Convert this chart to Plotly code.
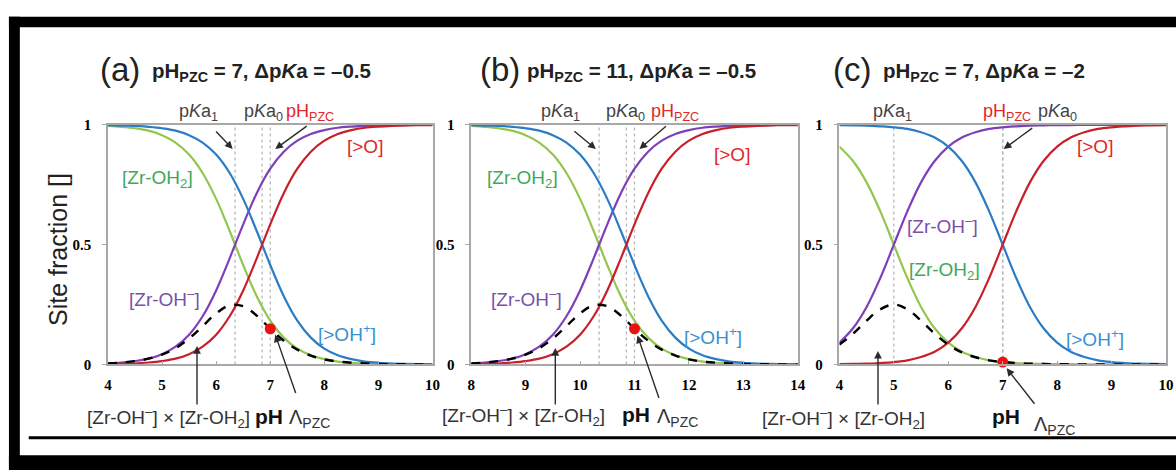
import plotly.graph_objects as go

W, H = 1176, 470

# ---------------- data ----------------
ph_a = [4.0, 4.25, 4.5, 4.75, 5.0, 5.25, 5.5, 5.75, 6.0, 6.25, 6.5, 6.75, 7.0,
        7.25, 7.5, 7.75, 8.0, 8.25, 8.5, 8.75, 9.0, 9.25, 9.5, 9.75, 10.0]
ph_b = [8.0, 8.25, 8.5, 8.75, 9.0, 9.25, 9.5, 9.75, 10.0, 10.25, 10.5, 10.75, 11.0,
        11.25, 11.5, 11.75, 12.0, 12.25, 12.5, 12.75, 13.0, 13.25, 13.5, 13.75, 14.0]
ph_c = ph_a

zroh2_a = [0.996, 0.992, 0.986, 0.976, 0.957, 0.926, 0.876, 0.799, 0.691, 0.557, 0.415, 0.285, 0.183,
           0.112, 0.066, 0.038, 0.022, 0.012, 0.007, 0.004, 0.002, 0.001, 0.001, 0.000, 0.000]
zroh_a = [0.004, 0.008, 0.014, 0.024, 0.043, 0.074, 0.124, 0.201, 0.309, 0.443, 0.585, 0.715, 0.817,
          0.888, 0.934, 0.962, 0.978, 0.988, 0.993, 0.996, 0.998, 0.999, 0.999, 1.000, 1.000]
oh_a = [0.999, 0.997, 0.996, 0.992, 0.986, 0.976, 0.957, 0.926, 0.876, 0.799, 0.691, 0.557, 0.415,
        0.285, 0.183, 0.112, 0.066, 0.038, 0.022, 0.012, 0.007, 0.004, 0.002, 0.001, 0.001]
o_a = [0.001, 0.003, 0.004, 0.008, 0.014, 0.024, 0.043, 0.074, 0.124, 0.201, 0.309, 0.443, 0.585,
       0.715, 0.817, 0.888, 0.934, 0.962, 0.978, 0.988, 0.993, 0.996, 0.998, 0.999, 0.999]
prod_a = [0.004, 0.008, 0.014, 0.024, 0.041, 0.068, 0.108, 0.160, 0.213, 0.247, 0.243, 0.204, 0.149,
          0.099, 0.062, 0.037, 0.021, 0.012, 0.007, 0.004, 0.002, 0.001, 0.001, 0.000, 0.000]

zroh2_b = zroh2_a
zroh_b = zroh_a
oh_b = oh_a
o_b = o_a
prod_b = prod_a

zroh2_c = [0.909, 0.849, 0.760, 0.640, 0.500, 0.360, 0.240, 0.151, 0.091, 0.053, 0.031, 0.017, 0.010,
           0.006, 0.003, 0.002, 0.001, 0.001, 0.000, 0.000, 0.000, 0.000, 0.000, 0.000, 0.000]
zroh_c = [0.091, 0.151, 0.240, 0.360, 0.500, 0.640, 0.760, 0.849, 0.909, 0.947, 0.969, 0.983, 0.990,
          0.994, 0.997, 0.998, 0.999, 0.999, 1.000, 1.000, 1.000, 1.000, 1.000, 1.000, 1.000]
oh_c = [0.999, 0.998, 0.997, 0.994, 0.990, 0.983, 0.969, 0.947, 0.909, 0.849, 0.760, 0.640, 0.500,
        0.360, 0.240, 0.151, 0.091, 0.053, 0.031, 0.017, 0.010, 0.006, 0.003, 0.002, 0.001]
o_c = [0.001, 0.002, 0.003, 0.006, 0.010, 0.017, 0.031, 0.053, 0.091, 0.151, 0.240, 0.360, 0.500,
       0.640, 0.760, 0.849, 0.909, 0.947, 0.969, 0.983, 0.990, 0.994, 0.997, 0.998, 0.999]
prod_c = [0.083, 0.128, 0.183, 0.230, 0.250, 0.230, 0.183, 0.128, 0.083, 0.050, 0.030, 0.017, 0.010,
          0.006, 0.003, 0.002, 0.001, 0.001, 0.000, 0.000, 0.000, 0.000, 0.000, 0.000, 0.000]

# vertical reference lines: pKa1, pKa0, pH_PZC
vlines_a = [6.35, 6.85, 7.0]
vlines_b = [10.35, 10.85, 11.0]
vlines_c = [5.0, 7.0, 7.0]

# Lambda_PZC points
lam_a = (7.0, 0.149)
lam_b = (11.0, 0.149)
lam_c = (7.0, 0.010)

x_ranges = [[4, 10], [8, 14], [4, 10]]
x_ticks = [[4, 5, 6, 7, 8, 9, 10], [8, 9, 10, 11, 12, 13, 14], [4, 5, 6, 7, 8, 9, 10]]
y_ticks = [0, 0.5, 1]
y_ticktext = ["0", "0.5", "1"]

titles = [("(a)", "pH<sub>PZC</sub> = 7, Δp<i>K</i>a = –0.5"),
          ("(b)", "pH<sub>PZC</sub> = 11, Δp<i>K</i>a = –0.5"),
          ("(c)", "pH<sub>PZC</sub> = 7, Δp<i>K</i>a = –2")]

# ---------------- styling ----------------
C_GREEN, C_PURPLE, C_BLUE, C_RED = "#92c64e", "#7e3fba", "#2a7cc6", "#c8202a"
T_GREEN, T_PURPLE, T_BLUE, T_RED = "#3fa85a", "#7a50ab", "#3a8fd2", "#e0282a"
SANS = "Liberation Sans, Arial, sans-serif"
SERIF = "Liberation Serif, Times New Roman, serif"


def px(x):
    return x / W


def py(y):
    return 1 - y / H


x_domains = [[px(105), px(433)], [px(472), px(802)], [px(844), px(1174)]]
y_domain = [py(369), py(121)]

panels = [
    (ph_a, zroh2_a, zroh_a, oh_a, o_a, prod_a, lam_a, vlines_a),
    (ph_b, zroh2_b, zroh_b, oh_b, o_b, prod_b, lam_b, vlines_b),
    (ph_c, zroh2_c, zroh_c, oh_c, o_c, prod_c, lam_c, vlines_c),
]

fig = go.Figure()
shapes = []
for i, (ph, g, pu, b, r, pr, lam, vl) in enumerate(panels):
    xa = "x" if i == 0 else f"x{i+1}"
    ya = "y" if i == 0 else f"y{i+1}"
    for v in vl:
        shapes.append(dict(type="line", xref=xa, yref=ya, x0=v, x1=v, y0=0, y1=1,
                           line=dict(color="#b8b8b8", width=1.3, dash="dot"), layer="below"))
    for ys, col in [(g, C_GREEN), (pu, C_PURPLE), (b, C_BLUE), (r, C_RED)]:
        fig.add_trace(go.Scatter(x=ph, y=ys, mode="lines", xaxis=xa, yaxis=ya,
                                 line=dict(color=col, width=2.2, shape="spline"),
                                 showlegend=False, hoverinfo="skip"))
    fig.add_trace(go.Scatter(x=ph, y=pr, mode="lines", xaxis=xa, yaxis=ya,
                             line=dict(color="black", width=2.4, dash="dash", shape="spline"),
                             showlegend=False, hoverinfo="skip"))
    fig.add_trace(go.Scatter(x=[lam[0]], y=[lam[1]], mode="markers", xaxis=xa, yaxis=ya,
                             marker=dict(color="#ee1111", size=11), cliponaxis=False,
                             showlegend=False, hoverinfo="skip"))

axis_common = dict(showline=True, mirror=True, linecolor="#a8a8a8", linewidth=1.5,
                   showgrid=False, zeroline=False, ticklen=4, tickcolor="#a8a8a8",
                   tickfont=dict(family=SERIF, size=15, color="black", weight="bold"))
layout_axes = {}
for i in range(3):
    sfx = "" if i == 0 else str(i + 1)
    layout_axes["xaxis" + sfx] = dict(axis_common, domain=x_domains[i], range=x_ranges[i],
                                     tickvals=x_ticks[i], ticks="inside",
                                     ticklabelstandoff=6, anchor="y" + sfx)
    layout_axes["yaxis" + sfx] = dict(axis_common, domain=y_domain, range=[0, 1],
                                     tickvals=y_ticks, ticktext=y_ticktext, ticks="outside",
                                     ticklabelstandoff=8, anchor="x" + sfx)

annotations = []


def label(x, y, text, color="#333333", size=19, xanchor="center", family=SANS):
    annotations.append(dict(xref="paper", yref="paper", x=px(x), y=py(y), text=text,
                            showarrow=False, xanchor=xanchor, yanchor="middle",
                            font=dict(family=family, size=size, color=color)))


def arrow(tx, ty, hx, hy):
    annotations.append(dict(xref="paper", yref="paper", x=px(hx), y=py(hy), ax=tx - hx, ay=ty - hy,
                            text="", showarrow=True, arrowhead=2, arrowsize=1.1,
                            arrowwidth=1.4, arrowcolor="#2b2b2b"))


# titles
title_x = [(117, 147), (501, 526), (857, 886)]
for (lx, tx), (lab, txt) in zip(title_x, titles):
    label(lx, 64, lab, color="#222222", size=33)
    label(tx, 66, "<b>" + txt + "</b>", color="#222222", size=20.5, xanchor="left")

# y axis title
annotations.append(dict(xref="paper", yref="paper", x=px(55), y=py(250), text="Site fraction []",
                        showarrow=False, textangle=-90, xanchor="center", yanchor="middle",
                        font=dict(family=SANS, size=25, color="#222222")))

PKA1 = "p<i>K</i>a<sub>1</sub>"
PKA0 = "p<i>K</i>a<sub>0</sub>"
PHPZC = "pH<sub>PZC</sub>"
LAM = "Λ<sub>PZC</sub>"
PROD = "[Zr-OH<sup>–</sup>] × [Zr-OH<sub>2</sub>]"
ZROH2 = "[Zr-OH<sub>2</sub>]"
ZROH = "[Zr-OH<sup>–</sup>]"
OHP = "[>OH<sup>+</sup>]"
OX = "[>O]"

TOP = 18  # size of the pKa / pH_PZC labels above the plots

# panel (a)
label(155, 177, ZROH2, T_GREEN)
label(162, 300, ZROH, T_PURPLE)
label(347, 336, OHP, T_BLUE)
label(365, 143, OX, T_RED)
label(197, 108, PKA1, "#444444", size=TOP)
label(262, 108, PKA0, "#444444", size=TOP)
label(309, 108, PHPZC, T_RED, size=TOP)
label(166, 424, PROD, "#333333")
label(268, 423, "<b>pH</b>", "#111111", size=21)
label(309, 425, LAM, "#333333", size=20)
arrow(213, 127, 231, 146)
arrow(307, 122, 274, 146)
arrow(195, 410, 195, 350)
arrow(295, 398, 274, 338)

# panel (b)
label(524, 177, ZROH2, T_GREEN)
label(528, 300, ZROH, T_PURPLE)
label(716, 340, OHP, T_BLUE)
label(735, 152, OX, T_RED)
label(562, 108, PKA1, "#444444", size=TOP)
label(628, 108, PKA0, "#444444", size=TOP)
label(678, 108, PHPZC, T_RED, size=TOP)
label(525, 422, PROD, "#333333")
label(639, 421, "<b>pH</b>", "#111111", size=21)
label(680, 424, LAM, "#333333", size=20)
arrow(575, 127, 598, 146)
arrow(670, 122, 642, 146)
arrow(557, 410, 557, 352)
arrow(662, 403, 640, 339)

# panel (c)
label(948, 225, ZROH, T_PURPLE)
label(950, 272, ZROH2, T_GREEN)
label(1102, 342, OHP, T_BLUE)
label(1102, 143, OX, T_RED)
label(898, 108, PKA1, "#444444", size=TOP)
label(1013, 108, PHPZC, T_RED, size=TOP)
label(1064, 108, PKA0, "#444444", size=TOP)
label(848, 425, PROD, "#333333")
label(1012, 423, "<b>pH</b>", "#111111", size=21)
label(1061, 432, LAM, "#333333", size=20)
arrow(1040, 124, 1010, 146)
arrow(883, 410, 883, 355)
arrow(1042, 410, 1013, 373)

# frame
frame = [
    dict(type="rect", xref="paper", yref="paper", x0=px(5), x1=1.05, y0=py(20), y1=py(9),
         fillcolor="black", line=dict(width=0)),
    dict(type="rect", xref="paper", yref="paper", x0=px(5), x1=px(16), y0=-0.05, y1=py(9),
         fillcolor="black", line=dict(width=0)),
    dict(type="rect", xref="paper", yref="paper", x0=px(5), x1=1.05, y0=-0.05, y1=py(463),
         fillcolor="black", line=dict(width=0)),
    dict(type="line", xref="paper", yref="paper", x0=px(25), x1=1.05, y0=py(445), y1=py(445),
         line=dict(color="black", width=3)),
]

fig.update_layout(
    width=W, height=H, margin=dict(l=0, r=0, t=0, b=0),
    paper_bgcolor="white", plot_bgcolor="white",
    shapes=shapes + frame, annotations=annotations, showlegend=False,
    **layout_axes,
)

fig.write_html("out.html", config={"displayModeBar": False},
               post_script="document.body.style.margin='0';document.body.style.overflow='hidden';")
